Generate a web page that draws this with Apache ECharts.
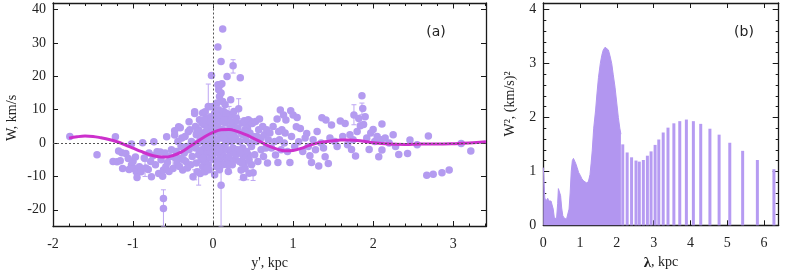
<!DOCTYPE html>
<html><head><meta charset="utf-8">
<script src="https://cdn.jsdelivr.net/npm/echarts@6/dist/echarts.min.js"></script>
<style>html,body{margin:0;padding:0;background:#fff}#c{width:789px;height:276px}</style>
</head><body><div id="c"></div>
<script>
// ---- Panel (a): W vs y' ----
const wPoints = [
[-1.79,2.0],[-1.45,-3.5],[-1.22,1.9],[-1.25,-5.5],[-1.2,-5.6],[-1.16,-5.3],[-1.14,-2.9],[-1.13,-7.6],[-1.18,-2.4],[-1.09,-3.1],[-1.06,-4.6],[-1.02,-6.6],[-0.99,-7.6],[-0.96,-8.6],[-0.92,-7.1],[-0.9,-8.6],[-0.95,-10.3],[-1.02,-0.3],[-0.88,0.1],[-1.05,-7.9],[-1.0,-5.5],[-0.97,-4.2],
[-0.81,-7.9],[-0.77,-10.1],[-0.74,0.4],[-0.7,-2.6],[-0.66,-2.7],[-0.68,-9.1],[-0.63,-9.9],[-0.62,-8.1],[-0.59,-7.1],[-0.58,1.9],[-0.54,-4.1],[-0.62,-16.6],[-0.62,-19.6],[-0.84,-7.5],[-0.8,-3.0],[-0.75,-3.8],[-0.72,-6.5],[-0.65,-5.0],[-0.6,-3.0],[-0.57,-5.8],[-0.52,-2.0],[-0.5,-7.6],[-0.55,-8.5],[-0.86,-4.5],[-0.78,-5.5],
[-0.48,2.4],[-0.45,-6.1],[-0.41,-4.6],[-0.43,4.9],[-0.4,-1.0],[-0.38,-8.1],[-0.36,-3.0],[-0.34,-5.5],[-0.31,3.4],[-0.3,6.4],[-0.3,-2.0],[-0.28,-6.5],[-0.27,0.5],[-0.26,-4.0],[-0.25,-10.1],[-0.46,-2.5],[-0.44,0.5],[-0.42,-7.0],[-0.39,1.5],[-0.37,-5.0],[-0.35,2.0],[-0.33,-1.0],[-0.32,-7.5],[-0.29,4.0],[-0.41,4.6],[-0.48,3.7],[-0.47,-4.5],
[-0.23,8.9],[-0.23,9.4],[-0.22,5.0],[-0.22,-1.5],[-0.21,2.5],[-0.21,-6.0],[-0.2,-8.6],[-0.19,0.0],[-0.18,-3.5],[-0.18,4.0],[-0.17,7.0],[-0.16,-9.1],[-0.16,1.0],[-0.15,-5.0],[-0.15,3.0],[-0.14,-2.0],[-0.14,6.0],[-0.13,-7.0],[-0.13,9.0],[-0.12,0.5],[-0.12,-4.0],[-0.11,2.0],[-0.11,5.5],[-0.1,-8.6],[-0.1,9.4],[-0.1,-1.0],[-0.09,3.5],[-0.09,-5.5],[-0.08,7.5],[-0.08,0.0],[-0.07,-3.0],[-0.07,4.5],[-0.06,11.0],[-0.06,-6.5],[-0.05,1.5],[-0.05,6.5],[-0.04,10.9],[-0.04,-2.5],[-0.03,3.0],[-0.03,-4.5],[-0.02,20.3],[-0.02,8.0],[-0.02,0.5],[-0.01,-1.5],[-0.01,5.0],[0.0,11.0],[0.0,-3.5],[0.0,2.5],[0.01,6.0],[0.01,-5.0],[0.02,9.0],[0.02,0.0],[0.03,3.5],[0.03,-2.0],[0.04,7.0],[0.04,-7.0],[0.05,12.0],[0.05,1.0],[0.06,28.8],[0.06,17.5],[0.06,5.0],[0.06,-3.0],[0.07,16.0],[0.07,10.0],[0.07,-1.0],[0.08,14.0],[0.08,3.0],[0.08,-5.5],[0.09,17.5],[0.09,8.0],[0.09,-4.5],[0.1,24.5],[0.1,15.0],[0.1,1.5],[0.1,-12.6],[0.11,17.8],[0.11,6.5],[0.11,-2.5],[0.12,34.2],[0.12,12.5],[0.12,4.0],[0.13,9.5],[0.13,-1.0],[0.14,2.0],[0.14,-4.0],[0.15,6.0],[0.15,11.5],[0.16,0.0],[0.16,-6.0],[0.17,3.5],[0.175,20.0],[0.18,7.5],[0.18,-2.0],[0.19,-8.5],[0.2,8.6],[0.2,1.0],[0.21,-6.1],[0.21,4.5],[0.22,13.0],[0.22,-3.0],[0.23,8.4],[0.23,0.5],[0.24,5.5],[0.25,23.2],[0.25,-1.5],[0.26,3.0],[0.27,-5.0],[0.28,6.5],[0.28,1.5],[0.29,-3.5],[0.3,4.0],
[-0.05,-8.0],[0.0,7.0],[0.02,-9.5],[0.05,4.0],[0.08,-8.0],[0.12,-6.5],[0.14,7.0],[0.17,-4.5],[0.19,2.5],[0.22,6.5],[0.24,-6.5],[0.26,9.5],[0.27,1.0],[0.29,7.5],[0.31,4.5],[0.33,-5.5],[0.35,3.0],[0.37,-1.5],[0.39,-6.0],[0.4,4.0],[0.42,5.5],[0.44,-3.5],[0.46,0.0],[0.48,-6.5],[-0.2,3.5],[-0.17,-2.5],[-0.13,-4.5],[-0.11,7.0],[-0.08,-7.5],[-0.06,-1.0],[-0.03,6.5],[0.03,8.5],[0.06,-6.5],[0.09,4.0],[0.13,1.5],[0.16,9.0],[0.18,-6.5],[0.2,-4.0],[0.24,2.0],[0.28,-2.0],
[0.32,10.3],[0.34,19.6],[0.31,-2.0],[0.33,0.5],[0.35,-8.1],[0.36,6.0],[0.37,2.5],[0.38,-4.0],[0.39,6.7],[0.4,-7.6],[0.41,1.0],[0.42,-2.5],[0.43,4.5],[0.44,7.0],[0.45,-5.0],[0.46,3.0],[0.47,6.5],[0.48,-1.0],[0.49,5.9],[0.5,-8.9],[0.5,2.0],[0.52,-3.5],[0.53,6.5],[0.54,0.5],[0.55,2.0],[0.56,-5.5],[0.57,4.0],[0.58,7.2],[0.6,-2.0],[0.6,1.5],[0.62,5.0],[0.63,-4.0],[0.64,2.5],[0.66,-1.5],[0.67,4.0],[0.68,-6.0],[0.69,1.0],[0.36,-6.0],[0.41,3.5],[0.45,-9.0],[0.34,-3.0],[0.38,-10.3],
[0.71,3.0],[0.73,-1.5],[0.75,5.0],[0.77,0.5],[0.78,-3.6],[0.8,7.2],[0.81,-5.8],[0.82,3.5],[0.83,1.0],[0.84,9.9],[0.85,-2.0],[0.86,4.0],[0.88,8.4],[0.89,0.0],[0.9,3.0],[0.91,6.9],[0.93,-2.5],[0.96,-5.8],[0.97,9.7],[0.98,2.0],[1.0,8.4],[1.02,-1.0],[1.04,4.9],[1.05,7.7],[1.07,0.4],[1.09,4.4],[1.12,-2.5],[1.15,1.5],[1.17,2.9],[1.19,-1.0],
[1.21,-3.8],[1.23,-5.8],[1.25,1.0],[1.28,-2.0],[1.3,3.5],[1.32,-6.9],[1.35,0.0],[1.36,7.6],[1.38,-1.5],[1.4,-4.1],[1.41,6.9],[1.44,-6.1],[1.46,1.5],[1.48,5.4],[1.52,0.5],[1.55,-1.0],[1.59,6.6],[1.62,2.0],[1.65,5.9],[1.68,-0.5],
[1.71,2.5],[1.73,-1.9],[1.75,1.0],[1.76,8.4],[1.78,-3.9],[1.8,3.5],[1.82,7.4],[1.84,5.2],[1.86,14.2],[1.87,10.4],[1.88,5.6],[1.9,7.9],[1.92,1.5],[1.95,-1.9],[1.97,3.0],[2.0,4.1],[2.02,0.5],[2.05,2.0],[2.07,-4.1],[2.1,1.0],[2.11,5.7],[2.11,-2.1],[2.15,1.5],[2.2,0.0],[2.25,2.5],[2.28,-1.0],
[2.32,-3.4],[2.43,-3.1],[2.46,0.9],[2.55,-0.5],[2.69,2.1],[2.67,-9.6],[2.75,-9.3],[2.86,-8.9],[2.95,-8.1],[3.1,-0.1],[3.22,-2.4]
];
// error bars: [y', low, high]
const errBars = [
[-0.62,-25,-14],[0.1,-25,-3],[-0.06,4,17.7],[0.32,7.3,13.3],[0.25,21,25],[1.76,5.5,11.5],[0.5,-11.2,-6.6],[-0.85,-10,-5.5],[-0.5,-7.6,-4.6],[-0.18,-12.6,-7.8],[0.21,-8.9,-3.5],[0.35,-11,-5.5],[0.42,-11,-6.6],[-0.23,-11,-8],[1.86,8.5,12],[0.2,6,11]
];
const curveX = [-1.8,-1.7,-1.6,-1.5,-1.4,-1.3,-1.2,-1.1,-1.0,-0.9,-0.8,-0.7,-0.6,-0.5,-0.4,-0.3,-0.2,-0.1,0.0,0.1,0.2,0.3,0.4,0.5,0.6,0.7,0.8,0.9,1.0,1.1,1.2,1.3,1.4,1.5,1.6,1.7,1.8,1.9,2.0,2.2,2.4,2.6,2.8,3.0,3.2,3.41];
const curveW = [1.5,1.9,2.1,2.0,1.6,1.1,0.4,-0.5,-1.5,-2.5,-3.4,-4.0,-4.2,-3.7,-2.7,-1.2,0.4,2.0,3.2,4.0,4.1,3.5,2.6,1.5,0.3,-0.9,-1.8,-2.3,-2.2,-1.6,-0.7,0.0,0.4,0.7,0.9,0.9,0.8,0.5,0.1,-0.3,-0.4,-0.3,-0.3,-0.2,0.0,0.4];
const aXLabels = [-2,-1,0,1,2,3];
const aYLabels = [-20,-10,0,10,20,30,40];

// ---- Panel (b): spectrum ----
const specLambda = [0,0.02,0.04,0.07,0.1,0.12,0.15,0.18,0.21,0.24,0.27,0.3,0.33,0.36,0.39,0.41,0.43,0.45,0.47,0.5,0.53,0.56,0.6,0.63,0.67,0.7,0.73,0.76,0.79,0.82,0.85,0.88,0.92,0.96,1.01,1.05,1.1,1.15,1.19,1.23,1.27,1.3,1.33,1.37,1.42,1.46,1.5,1.55,1.59,1.63,1.68,1.72,1.77,1.81,1.86,1.9,1.95,2.0,2.04,2.08,2.11];
const specPower = [1.07,0.8,0.51,0.45,0.48,0.5,0.45,0.45,0.45,0.45,0.3,0.14,0.11,0.12,0.4,0.68,0.70,0.68,0.55,0.32,0.18,0.14,0.12,0.11,0.11,0.3,0.6,1.0,1.2,1.24,1.22,1.15,1.07,0.98,0.92,0.86,0.82,0.79,0.78,0.82,0.94,1.15,1.38,1.8,2.12,2.45,2.74,3.0,3.15,3.25,3.3,3.3,3.25,3.15,3.0,2.8,2.56,2.25,2.0,1.8,1.69];
const barLambda = [2.16,2.28,2.4,2.52,2.61,2.72,2.83,2.93,3.04,3.14,3.26,3.39,3.55,3.71,3.89,4.08,4.28,4.53,4.78,5.07,5.42,5.82,6.27];
const barPower = [1.5,1.35,1.26,1.2,1.18,1.21,1.29,1.37,1.49,1.59,1.72,1.81,1.89,1.93,1.96,1.93,1.88,1.79,1.68,1.53,1.38,1.21,1.04];
const bXLabels = [0,1,2,3,4,5,6];
const bYLabels = [0,1,2,3,4];

function steps(a, b, s){ const r=[]; for(let v=a; v<=b+1e-9; v+=s) r.push(Math.round(v*100)/100); return r; }

const AX = '#1a1a1a';
const SERIF = '"Liberation Serif", "DejaVu Serif", serif';
const PT = '#b49bf0';
const lblStyle = {color:'#222', fontFamily:SERIF, fontSize:14};

function xAx(grid, pos, min, max, tickVals, len, labels, showLine){
  return {type:'value', gridIndex:grid, position:pos, min:min, max:max,
    axisLine:{show:showLine, onZero:false, lineStyle:{color:AX, width:1.3}},
    axisTick:{show:true, inside:true, length:len, customValues:tickVals, lineStyle:{color:AX, width:1}},
    axisLabel: labels ? Object.assign({customValues:labels, margin:11}, lblStyle) : {show:false},
    splitLine:{show:false}};
}
function yAx(grid, pos, min, max, tickVals, len, labels, showLine){
  return {type:'value', gridIndex:grid, position:pos, min:min, max:max,
    axisLine:{show:showLine, onZero:false, lineStyle:{color:AX, width:1.3}},
    axisTick:{show:true, inside:true, length:len, customValues:tickVals, lineStyle:{color:AX, width:1}},
    axisLabel: labels ? Object.assign({customValues:labels, margin:7}, lblStyle) : {show:false},
    splitLine:{show:false}};
}

const chart = echarts.init(document.getElementById('c'), null, {renderer:'canvas'});
const aXMinor = steps(-2, 3.4, 0.2);
const bYMinor = steps(0, 4, 0.2);

chart.setOption({
  animation:false,
  backgroundColor:'#fff',
  grid:[
    {left:53, top:3, width:433, height:223.5},
    {left:543.3, top:3, width:235.4, height:222.3}
  ],
  xAxis:[
    Object.assign(xAx(0,'bottom',-2,3.41,aXMinor,3,aXLabels,true), {name:"y', kpc", nameLocation:'middle', nameGap:29, nameTextStyle:lblStyle}),
    xAx(0,'top',-2,3.41,aXMinor,3,null,true),
    xAx(0,'bottom',-2,3.41,aXLabels,5.5,null,false),
    xAx(0,'top',-2,3.41,aXLabels,5.5,null,false),
    Object.assign(xAx(1,'bottom',0,6.4,bXLabels,5,bXLabels,true), {name:'{b|λ}, kpc', nameLocation:'middle', nameGap:29,
      nameTextStyle:Object.assign({rich:{b:{fontFamily:SERIF, fontSize:15, fontWeight:'bold', color:'#222'}}}, lblStyle)}),
    xAx(1,'top',0,6.4,bXLabels,5,null,true)
  ],
  yAxis:[
    yAx(0,'left',-25,42,aYLabels,5,aYLabels,true),
    yAx(0,'right',-25,42,aYLabels,5,null,true),
    yAx(1,'left',0,4.12,bYMinor,3,bYLabels,true),
    yAx(1,'left',0,4.12,bYLabels,6,null,false),
    yAx(1,'right',0,4.12,bYMinor,3,null,true),
    yAx(1,'right',0,4.12,bYLabels,6,null,false)
  ],
  graphic:[
    {type:'text', x:12, y:118, rotation:Math.PI/2, style:{text:'W, km/s', fill:'#222', font:'14px '+SERIF, align:'center', verticalAlign:'middle'}},
    {type:'text', x:510, y:104, rotation:Math.PI/2, style:{text:'W², (km/s)²', fill:'#222', font:'14px '+SERIF, align:'center', verticalAlign:'middle'}},
    {type:'text', x:436, y:32, style:{text:'(a)', fill:'#222', font:'14px "DejaVu Sans", sans-serif', align:'center', verticalAlign:'middle'}},
    {type:'text', x:744, y:32, style:{text:'(b)', fill:'#222', font:'14px "DejaVu Sans", sans-serif', align:'center', verticalAlign:'middle'}}
  ],
  series:[
    {type:'custom', xAxisIndex:0, yAxisIndex:0, clip:true, z:1,
      data: errBars,
      renderItem: function(params, api){
        const x = api.value(0);
        const p1 = api.coord([x, api.value(1)]);
        const p2 = api.coord([x, api.value(2)]);
        const c = {stroke:'#bda6f3', lineWidth:1};
        return {type:'group', children:[
          {type:'line', shape:{x1:p1[0], y1:p1[1], x2:p2[0], y2:p2[1]}, style:c},
          {type:'line', shape:{x1:p1[0]-2.5, y1:p1[1], x2:p1[0]+2.5, y2:p1[1]}, style:c},
          {type:'line', shape:{x1:p2[0]-2.5, y1:p2[1], x2:p2[0]+2.5, y2:p2[1]}, style:c}
        ]};
      },
      markLine:{silent:true, symbol:'none', label:{show:false},
        lineStyle:{color:'#555', type:[2,2], width:1},
        data:[{yAxis:0},{xAxis:0}]}
    },
    {type:'scatter', xAxisIndex:0, yAxisIndex:0, data:wPoints, symbolSize:7.5, z:2,
      itemStyle:{color:PT, opacity:1}},
    {type:'line', xAxisIndex:0, yAxisIndex:0, data:curveX.map((x,i)=>[x, curveW[i]]), smooth:0.4, showSymbol:false, z:3,
      lineStyle:{color:'#cc30cc', width:3}},
    {type:'line', xAxisIndex:4, yAxisIndex:2, data:specLambda.map((x,i)=>[x, specPower[i]]), showSymbol:false,
      lineStyle:{color:'#b296f0', width:1}, areaStyle:{color:'#b296f0', opacity:1}},
    {type:'bar', xAxisIndex:4, yAxisIndex:2, data:barLambda.map((x,i)=>[x, barPower[i]]), barWidth:3,
      itemStyle:{color:'#b69bf2'}}
  ]
});
</script></body></html>
